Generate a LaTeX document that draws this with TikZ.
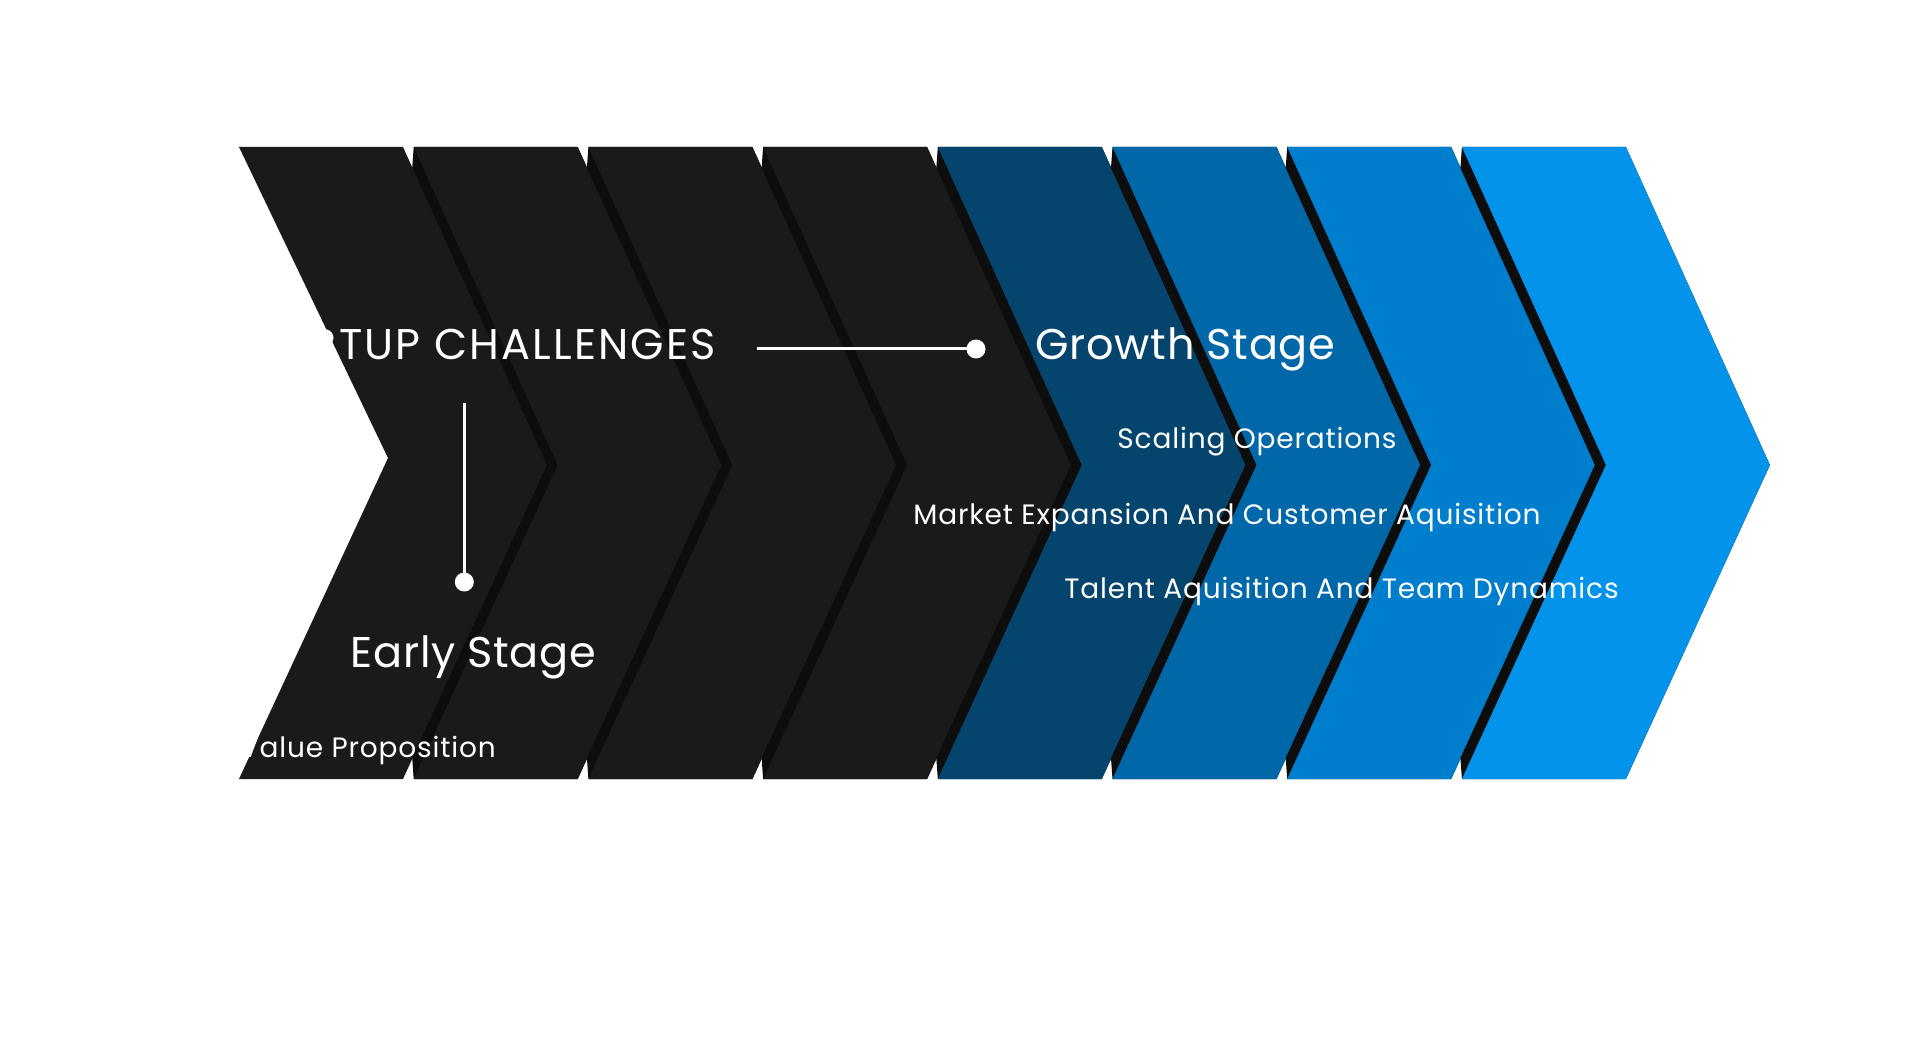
\documentclass[tikz,border=0pt]{standalone}
\usepackage{fontspec}
\setmainfont{Poppins}
\newfontfamily\bigfam{Poppins}[LetterSpace=1.6]
\newfontfamily\capsfam{Poppins}[LetterSpace=5]
\newfontfamily\smallfam{Poppins}[LetterSpace=3]
\definecolor{chblack}{HTML}{1A1A1A}
\definecolor{chshadow}{HTML}{0D0D0D}
\definecolor{chbA}{HTML}{05456D}
\definecolor{chbB}{HTML}{0067A9}
\definecolor{chbC}{HTML}{007ECE}
\definecolor{chbD}{HTML}{0393EB}
\tikzset{
  bigtxt/.style={text=white, inner sep=0pt, font=\bigfam\fontsize{43}{50}\selectfont},
  capstxt/.style={text=white, inner sep=0pt, font=\capsfam\fontsize{43}{50}\selectfont},
  smalltxt/.style={text=white, inner sep=0pt, font=\smallfam\fontsize{28}{34}\selectfont},
  conn/.style={draw=white, line width=3pt},
  dotnode/.style={circle, fill=white, minimum size=19pt, inner sep=0pt},
}
\begin{document}
\begin{tikzpicture}[x=1pt,y=-1pt]
\useasboundingbox (0,0) rectangle (1920,1056);
\fill[white] (0,0) rectangle (1920,1056);
\def\T{147}\def\B{779}\def\M{465}
\foreach \i/\c in {0/chblack,1/chblack,2/chblack,3/chblack,4/chbA,5/chbB,6/chbC,7/chbD}{
  \pgfmathsetmacro\tl{239+174.7*\i}
  \pgfmathsetmacro\nx{\i==0 ? 388 : \tl+144}
  \pgfmathsetmacro\ny{\i==0 ? 458 : \M}
  \ifnum\i>0
    \fill[chshadow] (\tl,\T) -- ({\tl+164},\T) -- ({\tl+308},\M) -- ({\tl+164},\B) -- (\tl,\B)
      -- ({\tl-1.5},{\B-21}) -- ({\tl+133},\M) -- ({\tl-1.5},{\T+21}) -- cycle;
  \fi
  \fill[\c] (\tl,\T) -- ({\tl+164},\T) -- ({\tl+308},\M) -- ({\tl+164},\B) -- (\tl,\B)
    -- (\nx,\ny) -- cycle;
}
% titles
\node[capstxt, anchor=base east] (title) at (716,360) {STARTUP CHALLENGES};
\node[bigtxt, anchor=base] (growth) at (1185.5,360) {Growth Stage};
\node[bigtxt, anchor=base] (early) at (473.5,667) {Early Stage};
% connectors
\coordinate (hstart) at (757,349);
\node[dotnode] (hdot) at (976,349) {};
\draw[conn] (hstart) -- (hdot.center);
\coordinate (vstart) at (464.3,403);
\node[dotnode] (vdot) at (464.3,582) {};
\draw[conn] (vstart) -- (vdot.center);
% items
\node[smalltxt, anchor=base east] (clear) at (496,757) {Clear Value Proposition};
\node[smalltxt, anchor=base] (scaling) at (1257,449) {Scaling Operations};
\node[smalltxt, anchor=base] (market) at (1227,524) {Market Expansion And Customer Aquisition};
\node[smalltxt, anchor=base] (talent) at (1341.5,598) {Talent Aquisition And Team Dynamics};
\end{tikzpicture}
\end{document}
